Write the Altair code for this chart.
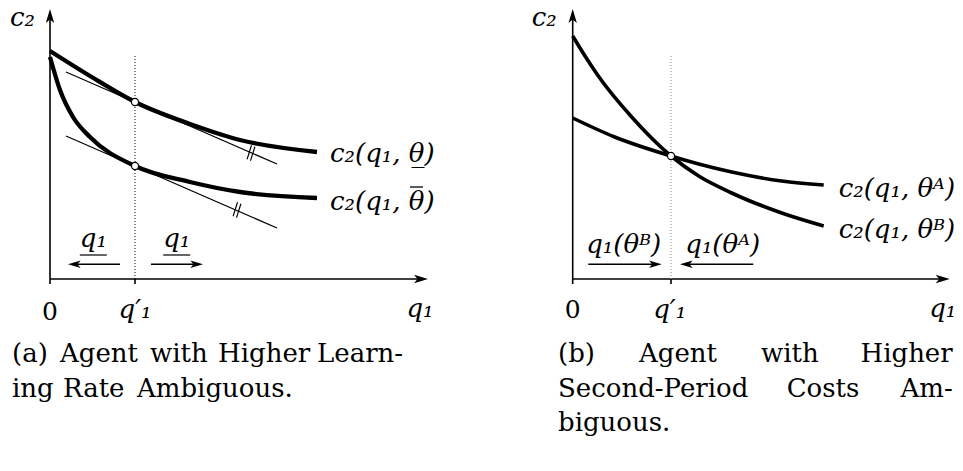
import altair as alt
import pandas as pd

FONT = "DejaVu Serif"
YDOM = [-19.2, 27.1]
H = 463
ARROW = "M0,0 L0.6,2 L0,1.5 L-0.6,2 Z"
MATH_SIZE = 26

# ---------------- Panel (a) values ----------------
A_XDOM = [-4.2, 43.0]
A_W = 472
a_upper_q1 = [0.0, 4.0, 8.5, 14.0, 19.0, 26.7]
a_upper_c2 = [22.8, 20.3, 17.7, 15.5, 13.9, 12.7]
a_lower_q1 = [0.0, 1.0, 2.3, 4.0, 8.5, 14.0, 19.0, 26.7]
a_lower_c2 = [22.2, 18.9, 16.2, 14.2, 11.3, 9.7, 8.7, 8.1]
a_qprime = 8.5
a_dot_top = 22.4
a_circle_c2 = [17.7, 11.3]
a_tan_q1 = [1.6, 22.7]
a_tan_upper_c2 = [20.7, 11.5]
a_tan_lower_c2 = [14.3, 5.1]
a_hash_q1 = [20.1, 18.7]
a_hash_c2 = [12.6, 6.9]
a_arrow_start = [7.0, 10.1]
a_arrow_tip = [1.8, 15.3]
a_arrow_c2 = 1.47
a_arrow_label_q1 = [4.33, 12.67]
a_labels = ["c\u2082(q\u2081, \u03b8\u0332)", "c\u2082(q\u2081, \u03b8)"]
a_label_c2 = [11.73, 6.9]
a_label_q1 = 28.0
a_overline = (36.0, 37.3, 9.2)  # bar over theta-bar in the lower label
a_caption = [("(a)", -3.8, -8.3, "left"), ("Agent", 1.0, -8.3, "left"),
             ("with", 10.0, -8.3, "left"), ("Higher", 16.8, -8.3, "left"),
             ("Learn-", 26.7, -8.3, "left"),
             ("ing", -3.8, -11.8, "left"), ("Rate", 1.3, -11.8, "left"),
             ("Ambiguous.", 8.7, -11.8, "left")]

# ---------------- Panel (b) values ----------------
B_XDOM = [-9.27, 38.23]
B_W = 475
b_A_q1 = [0.0, 4.2, 9.83, 12.6, 15.9, 20.9, 25.1]
b_A_c2 = [16.1, 14.2, 12.3, 11.5, 10.7, 9.8, 9.4]
b_B_q1 = [0.0, 1.23, 2.56, 5.9, 9.83, 12.6, 15.9, 20.9, 25.1]
b_B_c2 = [24.3, 22.3, 20.3, 16.2, 12.3, 10.3, 8.6, 6.6, 5.3]
b_qprime = 9.83
b_dot_top = 22.4
b_circle_c2 = [12.3]
b_arrow_start = [1.56, 18.06]
b_arrow_tip = [8.9, 10.73]
b_arrow_c2 = 1.47
b_arrow_labels = ["q\u2081(\u03b8\u1d2e)", "q\u2081(\u03b8\u1d2c)"]
b_arrow_label_q1 = [5.1, 15.0]
b_labels = ["c\u2082(q\u2081, \u03b8\u1d2c)", "c\u2082(q\u2081, \u03b8\u1d2e)"]
b_label_c2 = [8.23, 4.07]
b_label_q1 = 26.6
b_caption = [("(b)", -1.47, -8.3, "left"), ("Agent", 6.63, -8.3, "left"),
             ("with", 18.83, -8.3, "left"), ("Higher", 38.0, -8.3, "right"),
             ("Second-Period", -1.47, -11.8, "left"), ("Costs", 21.4, -11.8, "left"),
             ("Am-", 38.0, -11.8, "right"),
             ("biguous.", -1.47, -15.2, "left")]

X_TIP = [37.8, 37.7]
Y_TIP = 27.0
C2_LABEL_Y = 25.3


def seg(x, y, x2, y2, w):
    return dict(x=x, y=y, x2=x2, y2=y2, w=w)


def panel(xdom, width, curves, curve_w, rules, dotted, dot_color, heads, circles,
          it_left, it_center, roman_center, caption):
    X = alt.X("x:Q", scale=alt.Scale(domain=xdom, nice=False, zero=False), axis=None)
    Y = alt.Y("y:Q", scale=alt.Scale(domain=YDOM, nice=False, zero=False), axis=None)
    layers = []
    layers.append(alt.Chart(pd.DataFrame(rules)).mark_rule(color="black").encode(
        x=X, y=Y, x2="x2:Q", y2="y2:Q", strokeWidth=alt.StrokeWidth("w:Q", scale=None)))
    layers.append(alt.Chart(pd.DataFrame(dotted)).mark_rule(
        color=dot_color, strokeWidth=1, strokeDash=[1, 2]).encode(x=X, y=Y, y2="y2:Q"))
    layers.append(alt.Chart(pd.DataFrame(curves)).mark_line(
        color="black", strokeWidth=curve_w, interpolate="monotone", strokeCap="butt").encode(
        x=X, y=Y, detail="c:N"))
    layers.append(alt.Chart(pd.DataFrame(circles)).mark_point(
        shape="circle", filled=True, fill="white", stroke="black", strokeWidth=1.2,
        size=50, opacity=1, clip=True).encode(x=X, y=Y))
    layers.append(alt.Chart(pd.DataFrame(heads)).mark_point(
        shape=ARROW, filled=True, color="black", opacity=1, strokeWidth=0, clip=True).encode(
        x=X, y=Y, angle=alt.Angle("ang:Q", scale=None), size=alt.Size("s:Q", scale=None)))
    layers.append(alt.Chart(pd.DataFrame(it_left)).mark_text(
        font=FONT, fontStyle="italic", fontSize=MATH_SIZE, align="left", baseline="alphabetic",
        color="black", clip=True).encode(x=X, y=Y, text="t:N"))
    layers.append(alt.Chart(pd.DataFrame(it_center)).mark_text(
        font=FONT, fontStyle="italic", fontSize=MATH_SIZE, align="center", baseline="alphabetic",
        color="black", clip=True).encode(x=X, y=Y, text="t:N"))
    layers.append(alt.Chart(pd.DataFrame(roman_center)).mark_text(
        font=FONT, fontSize=25, align="center", baseline="alphabetic",
        color="black", clip=True).encode(x=X, y=Y, text="t:N"))
    cap = pd.DataFrame(caption)
    for al in ("left", "right"):
        sub = cap[cap["al"] == al]
        if len(sub):
            layers.append(alt.Chart(sub).mark_text(
                font=FONT, fontSize=26, align=al, baseline="alphabetic",
                color="black", clip=True).encode(x=X, y=Y, text="t:N"))
    return alt.layer(*layers).properties(width=width, height=H)


# ---- build panel (a)
a_curves = ([dict(x=q, y=c, c="low") for q, c in zip(a_upper_q1, a_upper_c2)] +
            [dict(x=q, y=c, c="high") for q, c in zip(a_lower_q1, a_lower_c2)])
a_rules = [seg(0, -0.5, 0, Y_TIP - 0.9, 1.6), seg(0, 0, X_TIP[0] - 0.9, 0, 1.6),
           seg(a_qprime, -0.5, a_qprime, 0, 1.6),
           seg(a_tan_q1[0], a_tan_upper_c2[0], a_tan_q1[1], a_tan_upper_c2[1], 1.2),
           seg(a_tan_q1[0], a_tan_lower_c2[0], a_tan_q1[1], a_tan_lower_c2[1], 1.2),
           seg(a_overline[0], a_overline[2], a_overline[1], a_overline[2], 1.3)]
for cx, cy in zip(a_hash_q1, a_hash_c2):
    for d in (-0.17, 0.17):
        a_rules.append(seg(cx + d - 0.22, cy - 0.44 * d - 0.7, cx + d + 0.22, cy - 0.44 * d + 0.7, 1.1))
for s, t in zip(a_arrow_start, a_arrow_tip):
    a_rules.append(seg(s, a_arrow_c2, t + (0.9 if t < s else -0.9), a_arrow_c2, 1.5))
for q in a_arrow_label_q1:
    a_rules.append(seg(q - 1.35, 2.4, q + 1.35, 2.4, 1.2))
a_heads = [dict(x=0, y=Y_TIP, ang=0, s=196), dict(x=X_TIP[0], y=0, ang=90, s=196)]
for s, t in zip(a_arrow_start, a_arrow_tip):
    a_heads.append(dict(x=t, y=a_arrow_c2, ang=270 if t < s else 90, s=160))
pa = panel(
    A_XDOM, A_W, a_curves, 4.3, a_rules,
    [dict(x=a_qprime, y=0, y2=a_dot_top)], "black", a_heads,
    [dict(x=a_qprime, y=c) for c in a_circle_c2],
    [dict(x=-4.0, y=C2_LABEL_Y, t="c\u2082")] +
    [dict(x=a_label_q1, y=c, t=t) for t, c in zip(a_labels, a_label_c2)],
    [dict(x=37.0, y=-3.8, t="q\u2081"), dict(x=a_qprime, y=-3.9, t="q\u2032\u2081")] +
    [dict(x=q, y=3.2, t="q\u2081") for q in a_arrow_label_q1],
    [dict(x=0, y=-4.1, t="0")],
    [dict(x=x, y=y, t=t, al=al) for t, x, y, al in a_caption])

# ---- build panel (b)
b_curves = ([dict(x=q, y=c, c="A") for q, c in zip(b_A_q1, b_A_c2)] +
            [dict(x=q, y=c, c="B") for q, c in zip(b_B_q1, b_B_c2)])
b_rules = [seg(0, -0.5, 0, Y_TIP - 0.9, 1.6), seg(0, 0, X_TIP[1] - 0.9, 0, 1.6),
           seg(b_qprime, -0.5, b_qprime, 0, 1.6)]
for s, t in zip(b_arrow_start, b_arrow_tip):
    b_rules.append(seg(s, b_arrow_c2, t + (0.9 if t < s else -0.9), b_arrow_c2, 1.5))
b_heads = [dict(x=0, y=Y_TIP, ang=0, s=196), dict(x=X_TIP[1], y=0, ang=90, s=196)]
for s, t in zip(b_arrow_start, b_arrow_tip):
    b_heads.append(dict(x=t, y=b_arrow_c2, ang=270 if t < s else 90, s=160))
pb = panel(
    B_XDOM, B_W, b_curves, 3.6, b_rules,
    [dict(x=b_qprime, y=0, y2=b_dot_top)], "#888888", b_heads,
    [dict(x=b_qprime, y=c) for c in b_circle_c2],
    [dict(x=-4.1, y=C2_LABEL_Y, t="c\u2082")] +
    [dict(x=b_label_q1, y=c, t=t) for t, c in zip(b_labels, b_label_c2)],
    [dict(x=37.0, y=-3.8, t="q\u2081"), dict(x=9.7, y=-3.9, t="q\u2032\u2081")] +
    [dict(x=q, y=2.57, t=t) for t, q in zip(b_arrow_labels, b_arrow_label_q1)],
    [dict(x=0, y=-3.9, t="0")],
    [dict(x=x, y=y, t=t, al=al) for t, x, y, al in b_caption])

chart = alt.hconcat(pa, pb, spacing=0, bounds="flush").properties(
    padding=0).configure_view(stroke=None)
chart.save("out.html", embed_options={"renderer": "svg", "actions": False})
